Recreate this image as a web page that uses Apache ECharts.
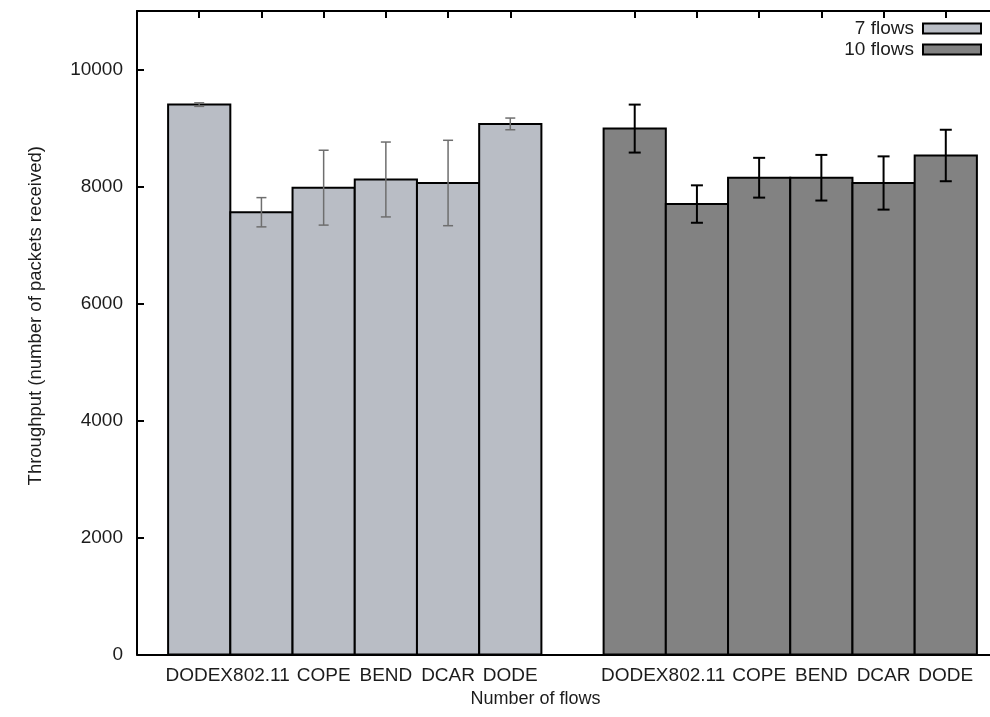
<!DOCTYPE html>
<html>
<head>
<meta charset="utf-8">
<title>Throughput</title>
<script src="https://cdn.jsdelivr.net/npm/echarts@6/dist/echarts.min.js"></script>
<style>
  html, body { margin: 0; padding: 0; background: #fff; }
  #chart { width: 990px; height: 717px; }
</style>
</head>
<body>
<div id="chart"></div>
<script>
// Protocols compared within each flow-count group
const categories = ['DODEX', '802.11', 'COPE', 'BEND', 'DCAR', 'DODE'];
const groupNames = ['7 flows', '10 flows'];

// Mean throughput (packets received) and error half-widths
const flows7 = [9400, 7560, 7980, 8120, 8060, 9070];
const flows7Err = [30, 250, 640, 640, 730, 100];
const flows10 = [8990, 7700, 8150, 8150, 8060, 8530];
const flows10Err = [410, 320, 340, 390, 455, 440];

const yTicks = [0, 2000, 4000, 6000, 8000, 10000];

const FONT = '"Liberation Sans", Arial, Helvetica, sans-serif';
const TEXT = '#1c1c1c';

// Each group occupies consecutive slots with one empty slot in between
const slotsPerGroup = categories.length + 1;
const xMin = -1;
const xMax = 2 * slotsPerGroup - 1;
const barSlots = [];
const slotLabel = {};
[flows7, flows10].forEach(function (_, g) {
  categories.forEach(function (c, i) {
    const s = g * slotsPerGroup + i;
    barSlots.push(s);
    slotLabel[s] = c;
  });
});
// blank labels at both ends keep every protocol name visible
const labelSlots = [xMin].concat(barSlots, [xMax]);

function toData(g, values, errs) {
  return values.map(function (v, i) {
    return [g * slotsPerGroup + i, v, errs[i]];
  });
}

function makeRender(fill, errColor, errWidth, capHalf) {
  return function (params, api) {
    const x = api.value(0);
    const v = api.value(1);
    const e = api.value(2);
    const tl = api.coord([x - 0.5, v]);
    const br = api.coord([x + 0.5, 0]);
    const top = api.coord([x, v + e]);
    const bot = api.coord([x, v - e]);
    const lineStyle = { stroke: errColor, lineWidth: errWidth };
    return {
      type: 'group',
      children: [
        {
          type: 'rect',
          shape: { x: tl[0], y: tl[1], width: br[0] - tl[0], height: br[1] - tl[1] },
          style: { fill: fill, stroke: '#000', lineWidth: 2 }
        },
        { type: 'line', shape: { x1: top[0], y1: top[1], x2: bot[0], y2: bot[1] }, style: lineStyle },
        { type: 'line', shape: { x1: top[0] - capHalf, y1: top[1], x2: top[0] + capHalf, y2: top[1] }, style: lineStyle },
        { type: 'line', shape: { x1: bot[0] - capHalf, y1: bot[1], x2: bot[0] + capHalf, y2: bot[1] }, style: lineStyle }
      ]
    };
  };
}

const LIGHT = '#b9bdc5';
const DARK = '#828282';

const chart = echarts.init(document.getElementById('chart'), null, { renderer: 'canvas' });

chart.setOption({
  animation: false,
  backgroundColor: '#fff',
  // The plot frame runs past the right edge of the canvas
  grid: { left: 137, top: 11, width: 871, height: 643.5, containLabel: false, outerBoundsMode: 'none' },
  legend: {
    orient: 'vertical',
    right: 8,
    top: 18,
    padding: 0,
    align: 'right',
    itemWidth: 58,
    itemHeight: 10,
    itemGap: 0,
    selectedMode: false,
    textStyle: { fontFamily: FONT, fontSize: 19, lineHeight: 21, color: TEXT, padding: [0, 4, 0, 0] },
    data: [
      { name: groupNames[0], icon: 'rect', itemStyle: { color: LIGHT, borderColor: '#000', borderWidth: 2 } },
      { name: groupNames[1], icon: 'rect', itemStyle: { color: DARK, borderColor: '#000', borderWidth: 2 } }
    ]
  },
  xAxis: [
    {
      type: 'value',
      position: 'bottom',
      min: xMin,
      max: xMax,
      name: 'Number of flows',
      nameLocation: 'middle',
      nameGap: 36,
      nameTextStyle: { fontFamily: FONT, fontSize: 18, color: TEXT, padding: [0, 74, 0, 0] },
      axisLine: { show: true, onZero: false, lineStyle: { color: '#000', width: 2 } },
      axisTick: { show: true, inside: true, length: 7, customValues: barSlots, lineStyle: { color: '#000', width: 2 } },
      axisLabel: {
        show: true,
        customValues: labelSlots,
        hideOverlap: false,
        margin: 12,
        fontFamily: FONT,
        fontSize: 19,
        color: TEXT,
        formatter: function (v) { return slotLabel[v] || ''; }
      },
      splitLine: { show: false }
    },
    {
      type: 'value',
      position: 'top',
      min: xMin,
      max: xMax,
      axisLine: { show: true, onZero: false, lineStyle: { color: '#000', width: 2 } },
      axisTick: { show: true, inside: true, length: 7, customValues: barSlots, lineStyle: { color: '#000', width: 2 } },
      axisLabel: { show: false },
      splitLine: { show: false }
    }
  ],
  yAxis: {
    type: 'value',
    min: 0,
    max: 11000,
    name: 'Throughput (number of packets received)',
    nameLocation: 'middle',
    nameGap: 92,
    nameTextStyle: { fontFamily: FONT, fontSize: 18.5, color: TEXT, padding: [0, 0, 0, 34] },
    axisLine: { show: true, onZero: false, lineStyle: { color: '#000', width: 2 } },
    axisTick: { show: true, inside: true, length: 7, customValues: yTicks, lineStyle: { color: '#000', width: 2 } },
    axisLabel: {
      customValues: yTicks,
      margin: 14,
      fontFamily: FONT,
      fontSize: 19,
      color: TEXT,
      formatter: function (v) { return String(v); }
    },
    splitLine: { show: false }
  },
  series: [
    {
      name: groupNames[0],
      type: 'custom',
      xAxisIndex: 0,
      itemStyle: { color: LIGHT },
      renderItem: makeRender(LIGHT, '#6e6e6e', 1.5, 5),
      data: toData(0, flows7, flows7Err),
      z: 3
    },
    {
      name: groupNames[1],
      type: 'custom',
      xAxisIndex: 0,
      itemStyle: { color: DARK },
      renderItem: makeRender(DARK, '#000', 2, 6),
      data: toData(1, flows10, flows10Err),
      z: 3
    }
  ]
});
</script>
</body>
</html>
